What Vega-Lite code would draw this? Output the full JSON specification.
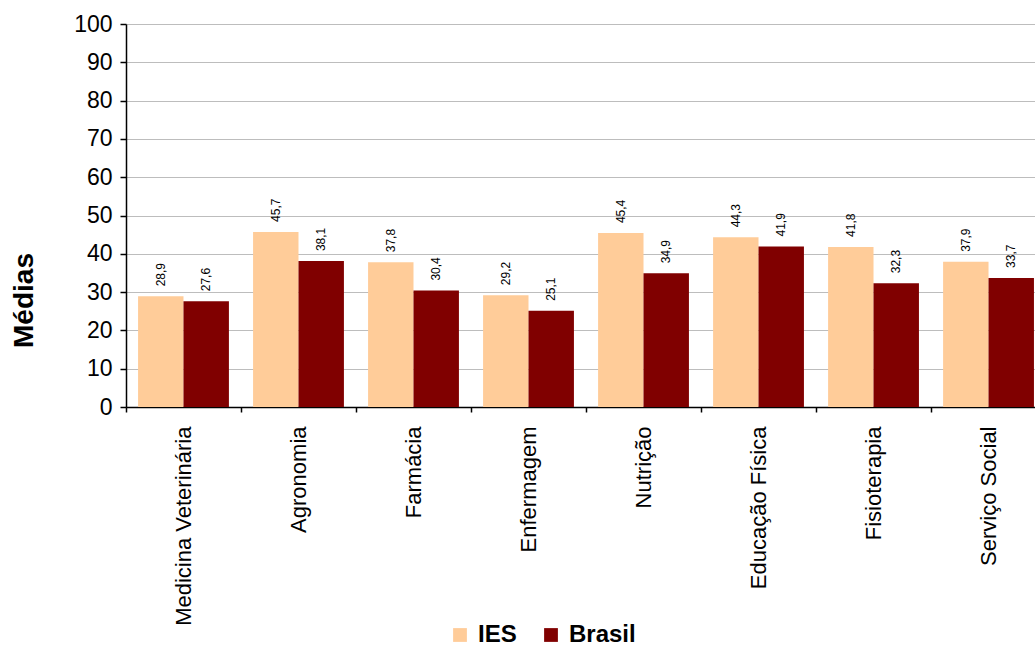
{
  "$schema": "https://vega.github.io/schema/vega-lite/v6.json",
  "autosize": "none",
  "width": 909,
  "height": 383,
  "padding": {"left": 126, "top": 24, "right": 0, "bottom": 243},
  "background": "white",
  "config": {
    "font": "Liberation Sans",
    "view": {"stroke": null},
    "locale": {"number": {"decimal": ",", "thousands": ".", "grouping": [3], "currency": ["R$", ""]}}
  },
  "data": {
    "values": [
      {"curso": "Medicina Veterinária", "grupo": "IES", "media": 28.9},
      {"curso": "Medicina Veterinária", "grupo": "Brasil", "media": 27.6},
      {"curso": "Agronomia", "grupo": "IES", "media": 45.7},
      {"curso": "Agronomia", "grupo": "Brasil", "media": 38.1},
      {"curso": "Farmácia", "grupo": "IES", "media": 37.8},
      {"curso": "Farmácia", "grupo": "Brasil", "media": 30.4},
      {"curso": "Enfermagem", "grupo": "IES", "media": 29.2},
      {"curso": "Enfermagem", "grupo": "Brasil", "media": 25.1},
      {"curso": "Nutrição", "grupo": "IES", "media": 45.4},
      {"curso": "Nutrição", "grupo": "Brasil", "media": 34.9},
      {"curso": "Educação Física", "grupo": "IES", "media": 44.3},
      {"curso": "Educação Física", "grupo": "Brasil", "media": 41.9},
      {"curso": "Fisioterapia", "grupo": "IES", "media": 41.8},
      {"curso": "Fisioterapia", "grupo": "Brasil", "media": 32.3},
      {"curso": "Serviço Social", "grupo": "IES", "media": 37.9},
      {"curso": "Serviço Social", "grupo": "Brasil", "media": 33.7}
    ]
  },
  "encoding": {
    "x": {
      "field": "curso",
      "type": "nominal",
      "sort": null,
      "scale": {"paddingInner": 0.21, "paddingOuter": 0.057, "align": 0.92},
      "axis": {
        "title": null,
        "bandPosition": 0,
        "tickOffset": -12,
        "labelOffset": 12,
        "labelAngle": 270,
        "labelAlign": "right",
        "labelBaseline": "middle",
        "labelFontSize": 22,
        "labelColor": "black",
        "labelPadding": 14,
        "labelLimit": 300,
        "domainColor": "black",
        "domainWidth": 1.5,
        "tickColor": "black",
        "tickSize": 5,
        "tickWidth": 1.5
      }
    },
    "xOffset": {"field": "grupo", "type": "nominal", "sort": ["IES", "Brasil"]},
    "y": {
      "field": "media",
      "type": "quantitative",
      "scale": {"domain": [0, 100]},
      "axis": {
        "title": "Médias",
        "titleFontSize": 28,
        "titleFontWeight": "bold",
        "titleColor": "black",
        "titleX": -102,
        "titleY": 276,
        "titleAngle": 270,
        "titleAlign": "center",
        "titleBaseline": "middle",
        "values": [0, 10, 20, 30, 40, 50, 60, 70, 80, 90, 100],
        "labelFontSize": 23,
        "labelColor": "black",
        "labelPadding": 8,
        "domainColor": "black",
        "domainWidth": 1.5,
        "tickColor": "black",
        "tickSize": 6,
        "tickWidth": 1.5,
        "gridColor": "#bdbdbd",
        "gridWidth": 1
      }
    }
  },
  "layer": [
    {
      "mark": {"type": "bar"},
      "encoding": {
        "color": {
          "field": "grupo",
          "type": "nominal",
          "sort": ["IES", "Brasil"],
          "scale": {"domain": ["IES", "Brasil"], "range": ["#FFCC99", "#800000"]},
          "legend": {
            "title": null,
            "orient": "none",
            "direction": "horizontal",
            "legendX": 322,
            "legendY": 599,
            "symbolType": "square",
            "symbolSize": 190,
            "symbolStrokeWidth": 0,
            "labelFontSize": 24,
            "labelFontWeight": "bold",
            "labelColor": "black",
            "labelOffset": 6,
            "columnPadding": 22
          }
        }
      }
    },
    {
      "mark": {"type": "text", "angle": 270, "align": "left", "baseline": "middle", "dx": 10, "fontSize": 12, "color": "black"},
      "encoding": {
        "text": {"field": "media", "type": "quantitative", "format": ".1f"}
      }
    }
  ]
}
